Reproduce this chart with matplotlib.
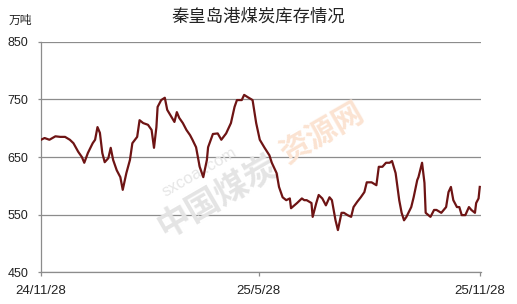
import pandas as pd
import matplotlib.pyplot as plt
import matplotlib.dates as mdates

# ------------------- Data -------------------
start_date = "2024-11-28"
# day offset from start, inventory (万吨)
day_offsets = [0, 3, 7, 12, 16, 20, 24, 27, 31, 34, 36, 39, 43, 45, 47, 49, 51, 53, 56, 58,
               60, 63, 66, 68, 71, 74, 76, 80, 82, 85, 89, 92, 94, 96, 97, 100, 103, 105, 109, 111,
               113, 115, 118, 121, 124, 126, 129, 132, 135, 138, 139, 143, 147, 150, 154, 158, 161, 163, 167, 169,
               172, 176, 179, 182, 186, 190, 192, 196, 198, 201, 204, 207, 208, 213, 217, 219, 221, 225, 226, 229,
               231, 234, 237, 240, 242, 245, 247, 250, 252, 255, 258, 260, 263, 266, 269, 271, 275, 279, 281, 284,
               287, 290, 292, 295, 298, 300, 302, 304, 308, 310, 313, 314, 317, 319, 320, 324, 327, 329, 333, 337,
               339, 341, 343, 346, 348, 350, 353, 356, 358, 361, 362, 364, 365]
stock = [680, 683, 680, 686, 685, 685, 680, 674, 659, 650, 640, 657, 674, 680, 702, 692, 657, 641, 648, 666,
         645, 627, 615, 593, 622, 645, 674, 685, 714, 709, 706, 697, 666, 702, 737, 749, 753, 732, 718, 711,
         728, 718, 709, 697, 688, 680, 667, 633, 615, 645, 667, 690, 691, 680, 691, 709, 737, 749, 749, 758,
         754, 749, 709, 680, 666, 653, 640, 622, 598, 580, 575, 578, 561, 570, 578, 575, 575, 570, 546, 570,
         584, 578, 566, 580, 575, 540, 523, 553, 553, 549, 546, 563, 572, 580, 589, 606, 606, 601, 633, 633,
         640, 640, 643, 622, 575, 553, 540, 546, 563, 580, 610, 615, 640, 605, 553, 546, 558, 558, 553, 563,
         589, 598, 575, 563, 563, 549, 549, 563, 558, 553, 570, 578, 598]

y_ticks = [450, 550, 650, 750, 850]
x_tick_dates = ["2024-11-28", "2025-05-28", "2025-11-28"]
x_tick_labels = ["24/11/28", "25/5/28", "25/11/28"]

title = "秦皇岛港煤炭库存情况"
unit = "万吨"

# ------------------- Chart -------------------
plt.rcParams['font.family'] = ['Liberation Sans', 'Noto Sans CJK SC', 'DejaVu Sans']

dates = pd.Timestamp(start_date) + pd.to_timedelta(day_offsets, unit='D')

fig = plt.figure(figsize=(5.17, 3.04), dpi=100)
ax = fig.add_axes([0.0793, 0.105, 0.851, 0.757])

ax.plot(dates, stock, color='#6e1414', linewidth=1.6, zorder=3)

ax.set_ylim(450, 850)
ax.set_yticks(y_ticks)
ax.set_xlim(pd.Timestamp(x_tick_dates[0]), pd.Timestamp(x_tick_dates[-1]) + pd.Timedelta(days=1))
ax.set_xticks([mdates.date2num(pd.Timestamp(d)) for d in x_tick_dates])
ax.set_xticklabels(x_tick_labels)

ax.yaxis.grid(True, color='#8c8c8c', linewidth=0.9)
ax.set_axisbelow(True)
for side in ['top', 'right']:
    ax.spines[side].set_visible(False)
for side in ['left', 'bottom']:
    ax.spines[side].set_color('#8c8c8c')
    ax.spines[side].set_linewidth(0.9)

ax.tick_params(axis='y', length=2, width=0.9, color='#8c8c8c', pad=7, labelsize=9, labelcolor='#222222')
ax.tick_params(axis='x', length=3, width=0.9, color='#8c8c8c', pad=6, labelsize=9.5, labelcolor='#222222')

# watermark
ax.text(0.361, 0.435, "sxcoal.com", transform=ax.transAxes, rotation=30, fontsize=12,
        color='#e6e6e6', ha='center', va='center', zorder=1)
ax.text(0.402, 0.326, "中国煤炭", transform=ax.transAxes, rotation=30, fontsize=24,
        fontweight='bold', family=['Noto Sans CJK SC'], color='#e4e4e4',
        ha='center', va='center', zorder=1)
ax.text(0.639, 0.604, "资源网", transform=ax.transAxes, rotation=30, fontsize=22,
        fontweight='bold', family=['Noto Sans CJK SC'], color='#fbe3d2',
        ha='center', va='center', zorder=1)

fig.text(0.5, 0.945, title, ha='center', va='center', fontsize=12.5,
         family=['Noto Sans CJK SC'], color='#222222')
fig.text(0.039, 0.934, unit, ha='center', va='center', fontsize=8.5,
         family=['Noto Sans CJK SC'], color='#222222')

fig.savefig("out.png", dpi=100)
